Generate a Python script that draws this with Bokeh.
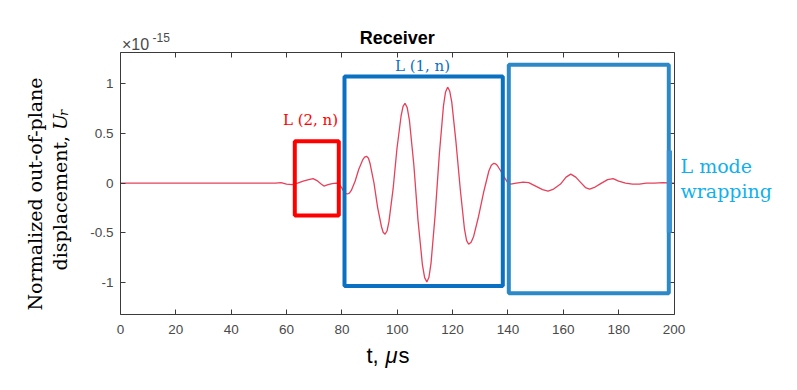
from math import pi
from bokeh.plotting import figure
from bokeh.models import Range1d, LinearAxis, FixedTicker, BoxAnnotation, Label
from bokeh.embed import file_html
from bokeh.resources import INLINE

# ---- data (time in microseconds, U_r in units of 1e-15) ----
t_us = [0, 56, 58, 60, 62, 64, 66, 68, 69.6, 71, 72.5, 73.5, 75, 76.5, 78, 79, 80, 81,
        82.0, 82.7, 83.4, 84.8, 86.1, 87.5, 88.2,
        88.9, 89.6, 90.2, 91.6, 92.9, 94.3, 94.9,
        95.6, 96.3, 97.0, 98.5, 99.9, 101.4, 102.1,
        102.8, 103.6, 104.4, 106.0, 107.5, 109.1, 109.9,
        110.7, 111.45, 112.2, 113.7, 115.2, 116.7, 117.45,
        118.2, 118.96, 119.7, 121.2, 122.8, 124.3, 125.04,
        125.8, 126.7, 127.6, 129.4, 131.3, 133.1, 134.0,
        134.9, 135.5, 136.1, 137.3, 138.6, 139.8,
        141.0, 143.0, 145.5, 147.5, 150.0, 152.5, 154.5, 156.5, 159.0, 161.0, 162.7,
        164.5, 166.5, 168.0, 169.5, 171.5, 173.5, 176.0, 178.0, 180.0, 182.5, 185.0,
        187.5, 190.0, 193.0, 196.0, 200.0]
u_r = [0, 0, 0.005, -0.01, -0.015, 0.0, 0.02, 0.035, 0.045, 0.025, -0.01, -0.03, -0.015, -0.005, 0.0, -0.01, -0.05, -0.1,
       -0.11, -0.101, -0.074, 0.021, 0.139, 0.234, 0.261,
       0.27, 0.251, 0.195, -0.001, -0.244, -0.440, -0.496,
       -0.515, -0.483, -0.389, -0.059, 0.349, 0.679, 0.773,
       0.805, 0.761, 0.633, 0.182, -0.374, -0.825, -0.953,
       -0.997, -0.949, -0.809, -0.318, 0.288, 0.779, 0.919,
       0.967, 0.928, 0.816, 0.420, -0.069, -0.465, -0.577,
       -0.616, -0.596, -0.538, -0.334, -0.082, 0.122, 0.180,
       0.20, 0.195, 0.18, 0.127, 0.063, 0.01,
       -0.01, 0.0, 0.01, 0.005, -0.03, -0.065, -0.08, -0.06, -0.01, 0.06, 0.09,
       0.06, 0.0, -0.045, -0.06, -0.04, -0.005, 0.035, 0.045, 0.02, 0.0, -0.01,
       -0.01, 0.0, 0.0, 0.005, 0.0]
x_ticks = [0, 20, 40, 60, 80, 100, 120, 140, 160, 180, 200]
y_ticks = [-1, -0.5, 0, 0.5, 1]
y_tick_labels = ["-1", "-0.5", "0", "0.5", "1"]

# ---- layout: reference pixel -> data coordinate ----
def X(px):
    return (px - 120.0) / 2.7675

def Y(py):
    return (182.6 - py) / 99.2

AX = "#3a3a3a"
TICKC = "#4a4a4a"
Y_LO, Y_HI = Y(314), Y(52)

# the frame covers the whole canvas
p = figure(width=781, height=374, output_backend="svg", toolbar_location=None,
           x_range=Range1d(X(0), X(781)), y_range=Range1d(Y(374), Y(0)),
           min_border=0, x_axis_location=None, y_axis_location=None)
p.grid.visible = False
p.outline_line_color = None
p.background_fill_color = "white"
p.border_fill_color = "white"

def make_axis(ticks, loc, bounds, labels=None):
    ax = LinearAxis(fixed_location=loc, bounds=bounds)
    ax.ticker = FixedTicker(ticks=ticks)
    ax.major_tick_in = 5
    ax.major_tick_out = 0
    ax.minor_tick_in = 0
    ax.minor_tick_out = 0
    ax.axis_line_color = AX
    ax.axis_line_width = 1
    ax.major_tick_line_color = AX
    ax.major_label_text_font = "Liberation Sans"
    ax.major_label_text_font_size = "13.5px"
    ax.major_label_text_color = TICKC
    if labels is None:
        ax.major_label_overrides = {t: "" for t in ticks}
    else:
        ax.major_label_overrides = dict(zip(ticks, labels))
    return ax

bx = make_axis(x_ticks, Y_LO, (0, 200), [str(v) for v in x_ticks])
bx.major_label_standoff = 10
p.add_layout(bx, "below")
p.add_layout(make_axis(x_ticks, Y_HI, (0, 200)), "above")
ly = make_axis(y_ticks, 0, (Y_LO, Y_HI), y_tick_labels)
ly.major_label_standoff = 7
p.add_layout(ly, "left")
p.add_layout(make_axis(y_ticks, 200, (Y_LO, Y_HI)), "right")

# signal
p.line(t_us, u_r, line_color="#e6405a", line_width=1.3)

# annotation boxes
p.add_layout(BoxAnnotation(left=X(294.3), right=X(338.3), top=Y(140.7), bottom=Y(215),
                           fill_alpha=0, line_color="#ff0000", line_alpha=1, line_width=4))
p.add_layout(BoxAnnotation(left=X(344), right=X(502.3), top=Y(76), bottom=Y(285.5),
                           fill_alpha=0, line_color="#0a70c2", line_alpha=1, line_width=4))
p.add_layout(BoxAnnotation(left=X(508.3), right=X(668.3), top=Y(64.2), bottom=Y(292.7),
                           fill_alpha=0, line_color="#2d88c8", line_alpha=1, line_width=4))
p.add_layout(BoxAnnotation(left=X(666.3), right=X(671.5), top=Y(150), bottom=Y(232),
                           fill_color="#3b93d2", fill_alpha=1, line_alpha=0))

def lab(px, py, text, size, color="#000000", font="DejaVu Serif", align="left",
        baseline="middle", angle=0, style="normal"):
    p.add_layout(Label(x=X(px), y=Y(py), text=text, text_font=font, text_font_size=size,
                       text_color=color, text_align=align, text_baseline=baseline,
                       angle=angle, text_font_style=style))

# title and exponent
lab(396.7, 37.5, "Receiver", "18px", "#000000", "Liberation Sans", "center", style="bold")
lab(121.5, 44, "\u00d710", "16px", TICKC, "Liberation Sans")
lab(152, 37, "-15", "12px", TICKC, "Liberation Sans")

# mode labels
lab(310, 119, "L (2, n)", "15px", "#ff0000", align="center")
lab(422, 65.5, "L (1, n)", "15px", "#0a70c2", align="center")
lab(680, 165, "L mode", "19px", "#10b0ee")
lab(680, 190.5, "wrapping", "19px", "#10b0ee")

# y-axis label (two rotated lines)
lab(34.5, 310, "Normalized out-of-plane", "19px", "#000000", align="left",
    baseline="alphabetic", angle=pi / 2)
lab(59, 270, "displacement, ", "19px", "#000000", align="left",
    baseline="alphabetic", angle=pi / 2)
lab(59, 129.5, "U", "19px", "#000000", align="left", baseline="alphabetic",
    angle=pi / 2, style="italic")
lab(63, 115.5, "r", "13px", "#000000", align="left", baseline="alphabetic",
    angle=pi / 2, style="italic")

# x-axis label
lab(366, 355, "t, ", "22px", "#000000", "Liberation Sans", baseline="alphabetic")
lab(385, 355, "\u03bc", "22px", "#000000", "Liberation Sans", baseline="alphabetic", style="italic")
lab(398, 355, "s", "22px", "#000000", "Liberation Sans", baseline="alphabetic")

open("out.html", "w").write(file_html(p, INLINE))
